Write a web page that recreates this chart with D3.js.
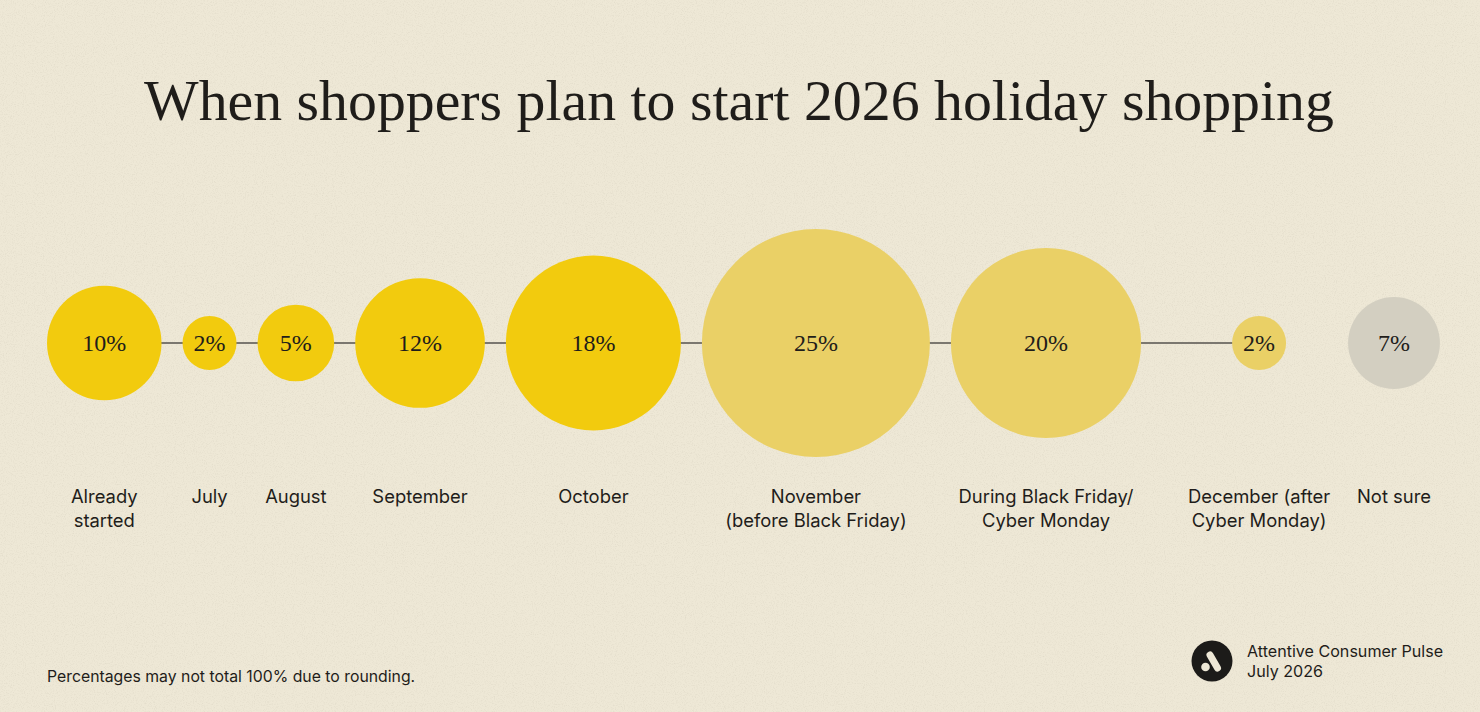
<!DOCTYPE html>
<html>
<head>
<meta charset="utf-8">
<script src="https://cdn.jsdelivr.net/npm/d3@7"></script>
<style>
  html, body { margin: 0; padding: 0; background: #EEE8D6; }
  svg { display: block; }
</style>
</head>
<body>
<svg id="chart" width="1480" height="712"></svg>
<script>
// ---- data ----
const title = "When shoppers plan to start 2026 holiday shopping";
const categories = [
  ["Already", "started"],
  ["July"],
  ["August"],
  ["September"],
  ["October"],
  ["November", "(before Black Friday)"],
  ["During Black Friday/", "Cyber Monday"],
  ["December (after", "Cyber Monday)"],
  ["Not sure"]
];
const values = [10, 2, 5, 12, 18, 25, 20, 2, 7];
const groups = ["early", "early", "early", "early", "early", "late", "late", "late", "unsure"];
const footnote = "Percentages may not total 100% due to rounding.";
const sourceLines = ["Attentive Consumer Pulse", "July 2026"];

// ---- setup ----
const W = 1480, H = 712;
const svg = d3.select("#chart");
const sans = "Inter, 'Liberation Sans', Arial, sans-serif";
const serif = "'Liberation Serif', 'DejaVu Serif', serif";
const ink = "#1f1d1a";

// background + paper texture
const defs = svg.append("defs");
const f = defs.append("filter").attr("id", "paper").attr("x", 0).attr("y", 0).attr("width", "100%").attr("height", "100%");
f.append("feTurbulence").attr("type", "fractalNoise").attr("baseFrequency", 0.9).attr("numOctaves", 3).attr("seed", 4).attr("result", "n");
f.append("feColorMatrix").attr("in", "n").attr("type", "matrix")
  .attr("values", "0 0 0 0 0.35  0 0 0 0 0.32  0 0 0 0 0.25  0 0 0 -1.6 0.85");
svg.append("rect").attr("width", W).attr("height", H).attr("fill", "#EEE8D6");
svg.append("rect").attr("width", W).attr("height", H).attr("filter", "url(#paper)").attr("opacity", 0.2);

// title, fitted to its width in the reference
const t = svg.append("text")
  .attr("x", W / 2 - 1).attr("y", 120)
  .attr("text-anchor", "middle")
  .style("font-family", serif).style("font-size", "60px")
  .attr("fill", ink).text(title);
const tw = t.node().getComputedTextLength();
t.style("font-size", (60 * 1190 / tw) + "px");

// scales
const r = d3.scaleLinear().domain([2, 25]).range([27, 114]);
const color = d3.scaleOrdinal().domain(["early", "late", "unsure"]).range(["#F2CB0E", "#EAD066", "#D3CFC1"]);

// horizontal packing of circles
const cy = 343;
const left = 47;
const gaps = values.map((_, i) => i === 0 ? 0 : (i === 7 ? 91 : (i === 8 ? 62 : 21)));
const cx = [];
let edge = left;
values.forEach((v, i) => {
  edge += gaps[i];
  cx.push(edge + r(v));
  edge += 2 * r(v);
});

// connector line from first circle to December
const lastConnected = 7;
svg.append("line")
  .attr("x1", cx[0]).attr("x2", cx[lastConnected])
  .attr("y1", cy).attr("y2", cy)
  .attr("stroke", "#7b776f").attr("stroke-width", 2);

const nodes = svg.append("g").selectAll("g").data(values).join("g")
  .attr("transform", (d, i) => `translate(${cx[i]},${cy})`);
nodes.append("circle").attr("r", d => r(d)).attr("fill", (d, i) => color(groups[i]));
nodes.append("text")
  .attr("text-anchor", "middle").attr("dy", "0.33em")
  .style("font-family", serif).style("font-size", "24px")
  .attr("fill", ink).text(d => d + "%");

// category labels
const lab = svg.append("g").selectAll("text").data(categories).join("text")
  .attr("text-anchor", "middle")
  .attr("transform", (d, i) => `translate(${cx[i]},503)`)
  .style("font-family", sans).style("font-size", "18.4px")
  .attr("fill", ink);
lab.selectAll("tspan").data(d => d).join("tspan")
  .attr("x", 0).attr("y", (d, j) => j * 24).text(d => d);

// footnote
svg.append("text").attr("x", 47).attr("y", 682)
  .style("font-family", sans).style("font-size", "15.8px")
  .attr("fill", ink).text(footnote);

// source block with logo
const logo = svg.append("g").attr("transform", "translate(1212,661)");
logo.append("circle").attr("r", 20.5).attr("fill", "#1c1b19");
logo.append("line").attr("x1", -2).attr("y1", -6).attr("x2", 5.5).attr("y2", 7)
  .attr("stroke", "#EEE8D6").attr("stroke-width", 7).attr("stroke-linecap", "round");
logo.append("circle").attr("cx", -6.5).attr("cy", 6).attr("r", 4.3).attr("fill", "#EEE8D6");
svg.append("text").attr("x", 1247).attr("y", 657)
  .style("font-family", sans).style("font-size", "16.1px").attr("fill", ink)
  .selectAll("tspan").data(sourceLines).join("tspan")
  .attr("x", 1247).attr("dy", (d, i) => i === 0 ? 0 : 20).text(d => d);
</script>
</body>
</html>
